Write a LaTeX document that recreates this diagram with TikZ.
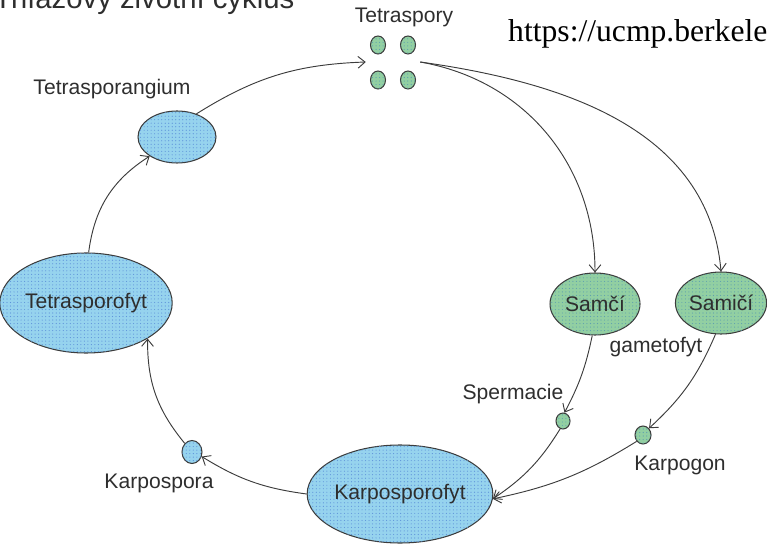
\documentclass[tikz,border=0pt]{standalone}
\usepackage{fontspec}
\setmainfont{Liberation Sans}
\newfontfamily\urlfont{Liberation Serif}
\usetikzlibrary{positioning,shapes.geometric,arrows.meta,patterns}
\tikzset{>={Straight Barb[length=6pt,width=10pt]}}
\definecolor{cellblue}{HTML}{96D3EE}
\definecolor{dotblue}{HTML}{5E93DA}
\definecolor{cellgreen}{HTML}{92CFA2}
\definecolor{dotgreen}{HTML}{5E9FB0}
\definecolor{linegray}{HTML}{3C3C3C}
\definecolor{textgray}{HTML}{2E2E2E}
\newcommand{\pxu}{0.03cm}

\begin{document}
\begin{tikzpicture}[
        x=0.03cm,
        y=-0.03cm,
        cell/.style={
            ellipse,
            draw=linegray,
            line width=0.9pt,
            inner sep=0pt,
            text=textgray,
            font=\fontsize{18}{20}\selectfont,
          },
        bluecell/.style={
            cell,
            fill=cellblue,
            postaction={pattern=dots, pattern color=dotblue},
          },
        greencell/.style={
            cell,
            fill=cellgreen,
            postaction={pattern=dots, pattern color=dotgreen},
          },
        caption/.style={
            inner sep=0pt,
            text=textgray,
            font=\fontsize{18}{20}\selectfont,
          },
        flow/.style={
            ->,
            draw=linegray,
            line width=0.8pt,
          },
      ]
      \useasboundingbox (0,0) rectangle (767,545);

      % headings, cut by the page edge
      \node [
        anchor=base west,
        inner sep=0pt,
        text=textgray,
        font=\fontsize{25}{28}\selectfont
      ] (title) at (-6,8.5) {Trifázový životní cyklus};
      \node [
        anchor=base west,
        inner sep=0pt,
        font=\urlfont\fontsize{27}{30}\selectfont
      ] (source) at (508,42) {https://ucmp.berkeley.edu};

      % tetraspores
      \node [
        minimum width=54*\pxu,
        minimum height=52*\pxu,
        inner sep=0pt
      ] (spores) at (393,62) {};
      \foreach \sx/\sy [count=\i] in {378/45,408/45,378/80,408/80}
        \node [
          greencell,
          minimum width=15*\pxu,
          minimum height=18*\pxu
        ] (spore\i) at (\sx,\sy) {};
      \node [
        caption,
        anchor=base
      ] (sporeslabel) at (404,23) {Tetraspory};

      % cells of the cycle
      \node [
        bluecell,
        minimum width=162*\pxu,
        minimum height=100*\pxu
      ] (tetrasporofyt) at (86,303) {Tetrasporofyt};
      \node [
        bluecell,
        minimum width=78*\pxu,
        minimum height=52*\pxu
      ] (tetrasporangium) at (177,137) {};
      \node [
        caption,
        anchor=base
      ] (tetrasporangiumlabel) at (112,95) {Tetrasporangium};
      \node [
        greencell,
        minimum width=90*\pxu,
        minimum height=62*\pxu
      ] (samec) at (595,304) {Samčí};
      \node [
        greencell,
        minimum width=84*\pxu,
        minimum height=62*\pxu
      ] (samice) at (721,303) {Samičí};
      \node [
        caption,
        anchor=base
      ] (gametofyt) at (656,352) {gametofyt};
      \node [
        greencell,
        minimum width=14*\pxu,
        minimum height=16*\pxu
      ] (spermacie) at (563,421) {};
      \node [
        caption,
        anchor=base
      ] (spermacielabel) at (513,399) {Spermacie};
      \node [
        greencell,
        minimum width=16*\pxu,
        minimum height=18*\pxu
      ] (karpogon) at (643,435) {};
      \node [
        caption,
        anchor=base
      ] (karpogonlabel) at (680,470) {Karpogon};
      \node [
        bluecell,
        minimum width=154*\pxu,
        minimum height=98*\pxu
      ] (karposporofyt) at (400,494) {Karposporofyt};
      \node [
        bluecell,
        minimum width=20*\pxu,
        minimum height=23*\pxu
      ] (karpospora) at (192,452) {};
      \node [
        caption,
        anchor=base
      ] (karposporalabel) at (159,488) {Karpospora};

      \draw[flow] (tetrasporofyt.87) to[bend left=25] (tetrasporangium.215);
      \draw[flow] (tetrasporangium.50) to[bend left=15] (spores.west);
      \draw[flow] (spores.east) to[out=-10,in=90] (samec.north);
      \draw[flow] (spores.east) to[out=-8,in=95] (samice.north);
      \draw[flow] (samec.265) to[bend left=8] (spermacie.80);
      \draw[flow] (samice.260) to[bend left=12] (karpogon.north east);
      \draw[flow] (spermacie.250) to[bend left=12] (karposporofyt.-3);
      \draw[flow] (karpogon.225) to[bend left=10] (karposporofyt.-3);
      \draw[flow] (karposporofyt.west) to[bend left=12] (karpospora.-25);
      \draw[flow] (karpospora.130) to[bend left=20] (tetrasporofyt.-30);
    \end{tikzpicture}
\end{document}
